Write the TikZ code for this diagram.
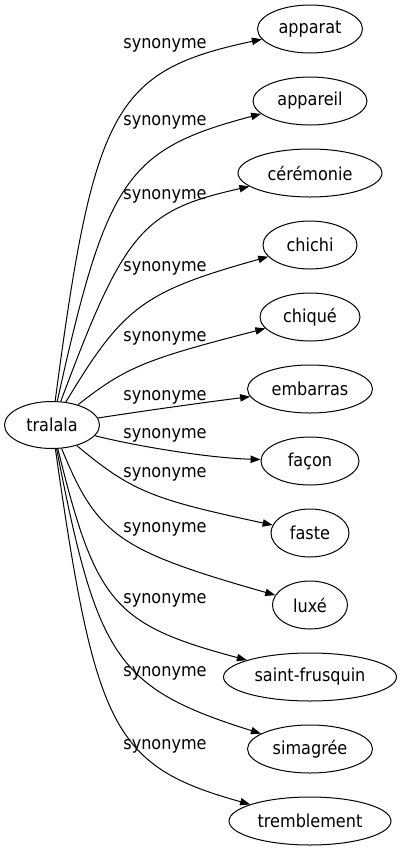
\documentclass[tikz,border=0pt]{standalone}
\usepackage{fontspec}
\setmainfont{DejaVu Sans Condensed}
\usetikzlibrary{shapes.geometric,arrows.meta}
\begin{document}
\begin{tikzpicture}[x=0.75pt,y=0.75pt,
  every node/.style={font=\fontsize{13.4}{16}\selectfont},
  term/.style={ellipse, draw, line width=0.75pt, inner sep=0pt, minimum height=36pt},
  lbl/.style={inner sep=0pt},
  edge/.style={draw, line width=0.75pt, -{Triangle[length=7.5pt,width=5.5pt]}}]
\useasboundingbox (0,0) rectangle (402,-851);
\node[term, minimum width=71.25pt, minimum height=35.25pt] (tralala) at (52,-425) {tralala};
\node[term, minimum width=78.75pt] (apparat) at (310,-29) {apparat};
\node[term, minimum width=85.5pt] (appareil) at (310,-101) {appareil};
\node[term, minimum width=108pt] (ceremonie) at (310,-173) {cérémonie};
\node[term, minimum width=70.5pt] (chichi) at (310,-245) {chichi};
\node[term, minimum width=75pt] (chique) at (310,-317) {chiqué};
\node[term, minimum width=93.75pt] (embarras) at (310,-389) {embarras};
\node[term, minimum width=73.5pt] (facon) at (310,-461) {façon};
\node[term, minimum width=58.5pt] (faste) at (310,-533) {faste};
\node[term, minimum width=56.25pt] (luxe) at (310,-605) {luxé};
\node[term, minimum width=129.75pt] (saint) at (310,-677) {saint-frusquin};
\node[term, minimum width=93.75pt] (simagree) at (310,-749) {simagrée};
\node[term, minimum width=121.5pt] (tremblement) at (310,-821) {tremblement};
\node[lbl] (l1) at (165,-45) {synonyme};
\node[lbl] (l2) at (165,-122) {synonyme};
\node[lbl] (l3) at (165,-196) {synonyme};
\node[lbl] (l4) at (165,-268) {synonyme};
\node[lbl] (l5) at (165,-338) {synonyme};
\node[lbl] (l6) at (165,-397) {synonyme};
\node[lbl] (l7) at (165,-435) {synonyme};
\node[lbl] (l8) at (165,-474) {synonyme};
\node[lbl] (l9) at (165,-529) {synonyme};
\node[lbl] (l10) at (165,-600) {synonyme};
\node[lbl] (l11) at (165,-673) {synonyme};
\node[lbl] (l12) at (165,-746) {synonyme};
\path[edge] (tralala) .. controls (93.8,-107.9) and (113.9,-70.8) .. (apparat);
\path[edge] (tralala) .. controls (106.5,-179) and (126.1,-149.4) .. (appareil);
\path[edge] (tralala) .. controls (123.9,-231.9) and (141.9,-210.4) .. (ceremonie);
\path[edge] (tralala) .. controls (123.2,-306.8) and (142.6,-291.8) .. (chichi);
\path[edge] (tralala) .. controls (125.9,-367.3) and (144.1,-359.6) .. (chique);
\path[edge] (tralala) .. controls (150,-410) and (200,-403) .. (embarras);
\path[edge] (tralala) .. controls (140,-447) and (210,-458) .. (facon);
\path[edge] (tralala) .. controls (131.5,-491.1) and (151.2,-499.1) .. (faste);
\path[edge] (tralala) .. controls (97.1,-535.3) and (118.3,-550.5) .. (luxe);
\path[edge] (tralala) .. controls (95.7,-602.8) and (113.5,-624.5) .. (saint);
\path[edge] (tralala) .. controls (97.3,-658.6) and (116.6,-688.3) .. (simagree);
\path[edge] (tralala) .. controls (95.3,-729.7) and (113.2,-766.3) .. (tremblement);
\end{tikzpicture}
\end{document}
